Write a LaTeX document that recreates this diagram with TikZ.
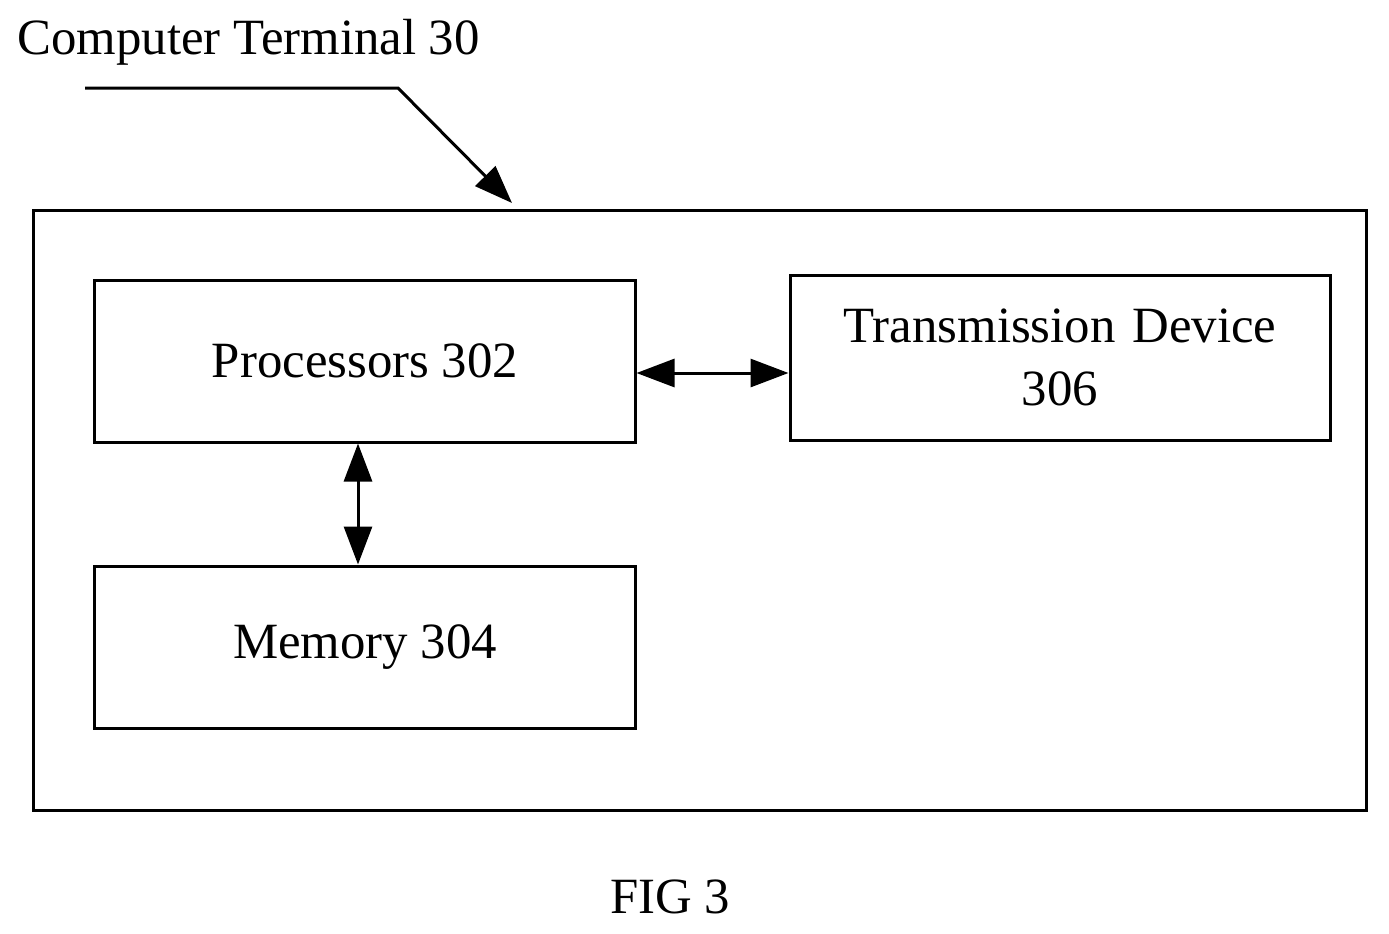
\documentclass[tikz,border=0pt]{standalone}
\usepackage{fontspec}
\setmainfont{Liberation Serif}
\usetikzlibrary{arrows.meta}
\begin{document}
\begin{tikzpicture}[x=1bp,y=-1bp,
  box/.style={draw,line width=3bp,inner sep=0pt},
  lbl/.style={font=\fontsize{51}{64}\selectfont,align=center},
  arr/.style={line width=3bp,-{Triangle[length=38bp,width=28bp]}},
  darr/.style={line width=3bp,{Triangle[length=38bp,width=28bp]}-{Triangle[length=38bp,width=28bp]}}]
\useasboundingbox (0,0) rectangle (1389,933);
\node[lbl,anchor=west] (title) at (14,42) {Computer Terminal 30};
\draw[box] (33,210) rectangle (1366,810);
\coordinate (outer) at (512,203);
\node[box,minimum width=540bp,minimum height=162bp,lbl] (proc) at (365,361) {Processors 302};
\node[box,minimum width=540bp,minimum height=165bp,lbl,text width=520bp] (trans) at (1060,357.5) {Transmission Device\\306};
\node[box,minimum width=540bp,minimum height=162bp,lbl] (mem) at (365,647) {Memory 304};
\coordinate (s) at (85,88);
\coordinate (k) at (398,88);
\draw[arr] (s) -- (k) -- (outer);
\draw[darr] (proc.east |- 0,373) -- (trans.west |- 0,373);
\draw[darr] (proc.south -| 358,0) -- (mem.north -| 358,0);
\node[lbl] (fig) at (670,897) {FIG 3};
\end{tikzpicture}
\end{document}
